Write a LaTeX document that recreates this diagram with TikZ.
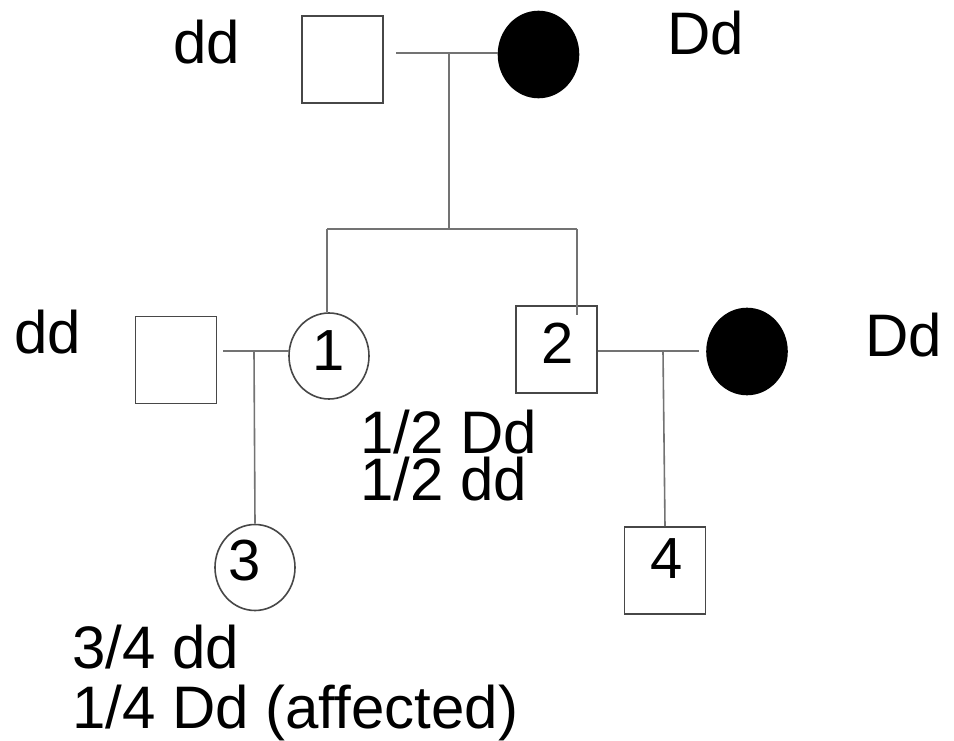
\documentclass[tikz,border=0pt]{standalone}
\usepackage{fontspec}
\setmainfont{Liberation Sans}
\usetikzlibrary{shapes.geometric}
\begin{document}
\begin{tikzpicture}[x=1pt,y=-1pt,
  shapeline/.style={draw=black!72, line width=1.6pt},
  male/.style={shapeline, rectangle, inner sep=0pt, minimum width=81pt, minimum height=87pt},
  female/.style={shapeline, ellipse, inner sep=0pt, minimum width=80pt, minimum height=86pt},
  affected/.style={fill=black, draw=black},
  conn/.style={draw=black!55, line width=1.6pt},
  lbl/.style={inner sep=0pt, anchor=base west, font=\fontsize{60}{72}\selectfont},
  num/.style={inner sep=0pt, anchor=base, font=\fontsize{58}{70}\selectfont}]
\useasboundingbox (0,0) rectangle (954,741);
\fill[white] (0,0) rectangle (954,741);

% generation I
\node[male] (gf) at (342.5,59.5) {};
\node[female, affected] (gm) at (538.5,54.5) {};
% generation II
\node[female] (c1) at (329,356) {};
\node[male] (s2) at (556.5,349.5) {};
\node[male] (sp1) at (176,360) {};
\node[female, affected] (sp2) at (747,351.5) {};
% generation III
\node[female] (c3) at (255,567.5) {};
\node[male] (s4) at (665,570.5) {};

% numbers
\node[num] (n1) at (329,370) {1};
\node[num] (n2) at (558,363) {2};
\node[num] (n3) at (245,580) {3};
\node[num] (n4) at (667,578) {4};

% labels
\node[lbl] (l1) at (173,64) {dd};
\node[lbl] (l2) at (667,55) {Dd};
\node[lbl] (l3) at (14,353) {dd};
\node[lbl] (l4) at (865,356) {Dd};
\node[lbl, anchor=north west, align=left, font=\fontsize{60}{47}\selectfont] (l5) at (360,410) {1/2 Dd\\1/2 dd};
\node[lbl, anchor=north west, align=left, font=\fontsize{60}{60}\selectfont] (l7) at (72,625) {3/4 dd\\1/4 Dd (affected)};

% connectors
\coordinate (m1a) at (396,53);
\coordinate (m1) at (449,53);
\coordinate (sib) at (449,229);
\coordinate (sibL) at (327,229);
\coordinate (sibR) at (577,229);
\coordinate (sibRend) at (577,315);
\coordinate (m2a) at (223,351);
\coordinate (m2) at (254,351);
\coordinate (m2b) at (289,351);
\coordinate (m3) at (663,351);
\coordinate (m3b) at (699,351);

\draw[conn] (m1a) -- (m1) -- (gm.west |- m1);
\draw[conn] (m1) -- (sib);
\draw[conn] (sibL) -- (sibR);
\draw[conn] (sibL) -- (c1.north -| sibL);
\draw[conn] (sibR) -- (sibRend);
\draw[conn] (m2a) -- (m2b);
\draw[conn] (m2) -- (c3.north);
\draw[conn] (s2.east |- m3) -- (m3b);
\draw[conn] (m3) -- (s4.north);
\end{tikzpicture}
\end{document}
